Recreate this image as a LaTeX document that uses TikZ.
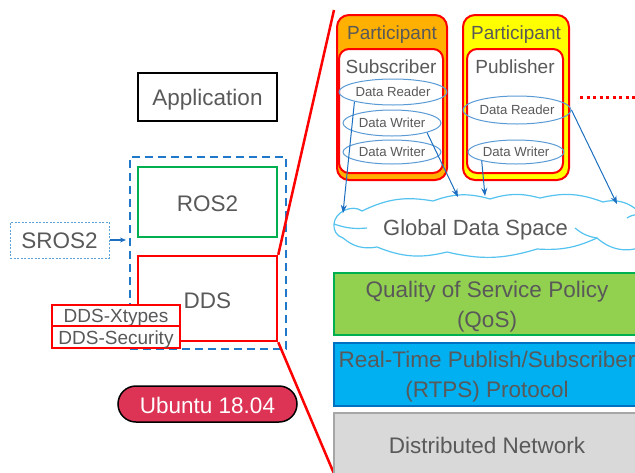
\documentclass[tikz,border=0pt]{standalone}
\usepackage{fontspec}
\setmainfont{Liberation Sans}
\usetikzlibrary{shapes.geometric,arrows.meta}

\definecolor{txt}{HTML}{595959}
\definecolor{dashblue}{HTML}{1F78C8}
\definecolor{rosgreen}{HTML}{00B050}
\definecolor{ellblue}{HTML}{5B9BD5}
\definecolor{arrblue}{HTML}{1C6FC0}
\definecolor{cloudblue}{HTML}{55C3F0}
\definecolor{porange}{HTML}{FFB000}
\definecolor{pyellow}{HTML}{FFFF00}
\definecolor{qosgreen}{HTML}{92D050}
\definecolor{qosedge}{HTML}{00B050}
\definecolor{rtpsblue}{HTML}{00B0F0}
\definecolor{rtpsedge}{HTML}{0070C0}
\definecolor{netgray}{HTML}{D9D9D9}
\definecolor{netedge}{HTML}{A6A6A6}
\definecolor{ubuntured}{HTML}{DD3355}
\definecolor{sroblue}{HTML}{5BA3D9}

\tikzset{
  bigtext/.style={font=\fontsize{22.5}{30}\selectfont, text=txt, anchor=base, inner sep=0pt},
  midtext/.style={font=\fontsize{19}{23}\selectfont, text=txt, anchor=base, inner sep=0pt},
  smalltext/.style={font=\fontsize{13.2}{16}\selectfont, text=txt},
  box/.style={rectangle, inner sep=0pt},
  layer/.style={box, minimum width=306pt, line width=1.5pt},
  participant/.style={box, rounded corners=12pt, draw=red, line width=2pt, minimum height=165pt},
  inner part/.style={box, rounded corners=10pt, draw=red, fill=white, line width=2pt, minimum height=124pt},
  port/.style={ellipse, draw=ellblue, line width=1pt, inner sep=0pt, smalltext},
  flow/.style={draw=arrblue, line width=1pt, -{Stealth[length=8pt,width=6pt]}},
  zoomline/.style={draw=red, line width=2.5pt},
  puff/.style={bend left=#1},
  cloudline/.style={draw=cloudblue, line width=1.2pt},
}

\begin{document}
\begin{tikzpicture}[x=1pt,y=-1pt]
\useasboundingbox (0,0) rectangle (635,472);
\clip (0,0) rectangle (635,472);

% ---------- software stack (left) ----------
\node[box, draw=black, line width=1.8pt, minimum width=139pt, minimum height=48pt] (app) at (207.5,97) {};
\node[bigtext] (applbl) at (207.5,105) {Application};

\node[box, draw=dashblue, line width=2.5pt, dash pattern=on 8pt off 5pt, minimum width=156pt, minimum height=192pt] (stack) at (208,253) {};

\node[box, draw=rosgreen, line width=2pt, minimum width=139pt, minimum height=70pt] (ros) at (207.5,202) {};
\node[bigtext] (roslbl) at (207.5,211.5) {ROS2};

\node[box, draw=red, line width=2.5pt, minimum width=139pt, minimum height=85pt] (dds) at (207.5,298.5) {};
\node[bigtext] (ddslbl) at (207.5,308) {DDS};

\node[box, draw=red, fill=white, line width=1.5pt, minimum width=128pt, minimum height=21pt] (xtypes) at (116,315.5) {};
\node[midtext] (xtypeslbl) at (116,322.5) {DDS-Xtypes};
\node[box, draw=red, fill=white, line width=1.5pt, minimum width=128pt, minimum height=22pt] (sec) at (116,337) {};
\node[midtext] (seclbl) at (116,344) {DDS-Security};

\node[box, draw=sroblue, line width=1pt, dash pattern=on 2pt off 1.5pt, minimum width=99pt, minimum height=36pt] (sros) at (59.5,240) {};
\node[bigtext] (sroslbl) at (59.5,248) {SROS2};
\coordinate (srosin) at (126,240);
\draw[draw=arrblue, line width=1.5pt, -{Stealth[length=6pt,width=5pt]}] (sros.east) -- (srosin);

\node[box, draw=black, fill=ubuntured, line width=1.5pt, rounded corners=18pt, minimum width=179pt, minimum height=36pt] (ubuntu) at (207.5,404) {};
\node[bigtext, text=white] (ubuntulbl) at (207.5,413) {Ubuntu 18.04};

% ---------- zoom lines from DDS ----------
\coordinate (zt) at (334,10);
\coordinate (zb) at (335,476);
\draw[zoomline] (dds.north east) -- (zt);
\draw[zoomline] (dds.south east) -- (zb);

% ---------- DDS internals (right) ----------
\node[participant, fill=porange, minimum width=110pt] (p1) at (392,97.5) {};
\node[inner part, minimum width=104pt] (s1) at (391,111) {};
\node[participant, fill=pyellow, minimum width=106pt] (p2) at (516,97.5) {};
\node[inner part, minimum width=96pt] (s2) at (515,111) {};

\node[midtext] (p1lbl) at (392,39) {Participant};
\node[midtext] (p2lbl) at (516,39) {Participant};
\node[midtext] (sublbl) at (391,73) {Subscriber};
\node[midtext] (publbl) at (515,73) {Publisher};

\node[port, minimum width=108pt, minimum height=26pt] (sr) at (393,92) {Data Reader};
\node[port, minimum width=98pt, minimum height=26pt] (sw1) at (392,123) {Data Writer};
\node[port, minimum width=98pt, minimum height=24pt] (sw2) at (392,152) {Data Writer};
\node[port, minimum width=108pt, minimum height=28pt] (pr) at (517,110) {Data Reader};
\node[port, minimum width=96pt, minimum height=24pt] (pw) at (516,152) {Data Writer};

\coordinate (dots0) at (580,97);
\coordinate (dots1) at (640,97);
\draw[red, line width=3pt, dash pattern=on 3pt off 3.5pt] (dots0) -- (dots1);

% ---------- global data space cloud ----------
\draw[cloudline, fill=white]
  (334,224) to[puff=62] (362,211) to[puff=18] (433,201) to[puff=18] (490,199)
  to[puff=16] (540,198) to[puff=17] (603,202) to[puff=45] (648,228)
  -- (648,244) to[puff=35] (597,238) to[puff=14] (537,249) to[puff=15] (447,252)
  to[puff=18] (377,247) to[puff=25] (343,238) to[puff=40] cycle;
\draw[cloudline] (334,224) to[puff=-12] (367,228);
\draw[cloudline] (575,228) to[puff=-15] (597,238);
\draw[cloudline] (627,218) to[puff=20] (640,215);
\node[font=\fontsize{22}{26}\selectfont, text=txt, anchor=base, inner sep=0pt] (gdslbl) at (475.5,235) {Global Data Space};

\coordinate (e1) at (343,213);
\coordinate (e2) at (458,197);
\coordinate (e3) at (485,196);
\coordinate (e4) at (617,204);
\draw[flow] (sr.south west) -- (e1);
\draw[flow] (sw1.south east) -- (e2);
\draw[flow] (pw.south west) -- (e3);
\draw[flow] (pr.east) -- (e4);

% ---------- protocol layers ----------
\node[layer, fill=qosgreen, draw=qosedge, minimum height=62pt] (qos) at (487,304) {};
\node[bigtext] (qos1) at (487,297.3) {Quality of Service Policy};
\node[bigtext] (qos2) at (487,327.3) {(QoS)};

\node[layer, fill=rtpsblue, draw=rtpsedge, minimum height=63pt] (rtps) at (487,374.5) {};
\node[bigtext] (rtps1) at (487,367.3) {Real-Time Publish/Subscriber};
\node[bigtext] (rtps2) at (487,397.3) {(RTPS) Protocol};

\node[layer, fill=netgray, draw=netedge, minimum height=68pt] (net) at (487,447) {};
\node[bigtext] (netlbl) at (487,453.3) {Distributed Network};
\end{tikzpicture}
\end{document}
